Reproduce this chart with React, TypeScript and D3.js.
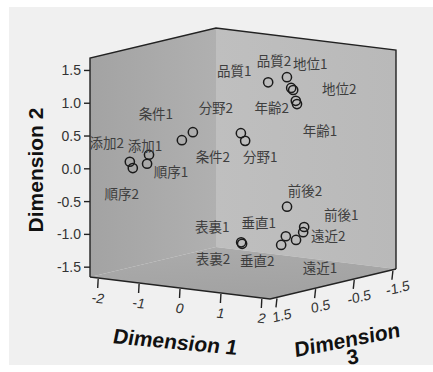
import React, { useEffect, useRef } from "react";
import * as d3 from "d3";

// point labels and their three dimension scores
const labels = [
  "品質1", "品質2", "地位1", "地位2", "年齢1", "年齢2",
  "分野1", "分野2", "条件1", "条件2", "添加1", "添加2",
  "順序1", "順序2", "前後1", "前後2", "表裏1", "表裏2",
  "垂直1", "垂直2", "遠近1", "遠近2",
];
const dim1 = [
  0.19, 0.46, 0.28, 0.14, 0.8, 0.96,
  0.1, -0.8, -0.88, 0.09, -1.4, -1.68,
  -1.4, -1.56, 1.07, 0.84, 0.38, 0.45,
  1.0, 0.98, 1.06, 1.14,
];
const dim2 = [
  1.21, 1.28, 1.06, 0.99, 0.91, 1.0,
  0.38, 0.5, 0.4, 0.51, 0.18, 0.08,
  0.05, 0.0, -0.93, -0.61, -1.09, -1.1,
  -1.02, -1.14, -1.1, -0.99,
];
const dim3 = [
  -0.4, -0.6, -0.9, -1.1, -0.5, -0.3,
  0.1, 0.5, 0.7, 0.2, 1.0, 1.2,
  1.05, 1.25, -0.4, -0.2, 0.5, 0.55,
  0.0, 0.1, -0.2, -0.3,
];
const ticks1 = [-2, -1, 0, 1, 2];
const ticks2 = [1.5, 1.0, 0.5, 0.0, -0.5, -1.0, -1.5];
const ticks3 = [1.5, 0.5, -0.5, -1.5];

// where each label sits relative to its marker (px), set by hand to avoid overlaps
const labelNudge: [number, number][] = [
  [-34, -12], [-13, -17], [19, -25], [46, -2], [23, 26], [-24, 6],
  [15, 15], [23, -25], [-26, -27], [-28, 23], [-4, -10], [-23, -20],
  [24, 7], [-11, 25], [37, -13], [18, -17], [-29, -16], [-29, 14],
  [-27, -14], [-24, 15], [24, 27], [25, 3],
];

const fmt = (f: string) => (v: number) => d3.format(f)(v).replace("−", "-");

export default function App() {
  const ref = useRef<SVGSVGElement>(null);
  useEffect(() => {
    const W = 433, H = 372;
    const svg = d3.select(ref.current).attr("width", W).attr("height", H);
    svg.selectAll("*").remove();

    // floor corners: A front-left, B front-right, D back-left; wall height
    const A = [90, 277], B = [270, 299], D = [216, 247], hgt = 219;
    const s1 = d3.scaleLinear().domain([-2.2, 2.2]).range([0, 1]);
    const s2 = d3.scaleLinear().domain([-1.65, 1.69]).range([0, 1]);
    const s3 = d3.scaleLinear().domain([1.68, -1.58]).range([0, 1]);
    const proj = (a: number, b: number, c: number): [number, number] => {
      const f1 = s1(a), f2 = s2(b), f3 = s3(c);
      return [
        A[0] + f1 * (B[0] - A[0]) + f3 * (D[0] - A[0]),
        A[1] + f1 * (B[1] - A[1]) + f3 * (D[1] - A[1]) - f2 * hgt,
      ];
    };
    const [x1a, x1b] = s1.domain();
    const [y2a, y2b] = s2.domain();
    const [z3a, z3b] = s3.domain(); // front, back

    svg.append("rect").attr("width", W).attr("height", H).attr("fill", "#fff");
    svg.append("rect").attr("x", 9).attr("y", 7).attr("width", W - 9).attr("height", 358).attr("fill", "#f0f0f0");

    const defs = svg.append("defs");
    const grad = (id: string, c0: string, c1: string, x2 = "100%", y2 = "0%") => {
      const g = defs.append("linearGradient").attr("id", id).attr("x1", "0%").attr("y1", "0%").attr("x2", x2).attr("y2", y2);
      g.append("stop").attr("offset", "0%").attr("stop-color", c0);
      g.append("stop").attr("offset", "100%").attr("stop-color", c1);
    };
    grad("lw", "#a3a3a3", "#b0b0b0");
    grad("bw", "#bfbfbf", "#b9b9b9");
    grad("fl", "#acacac", "#a2a2a2", "30%", "100%");

    const poly = (pts: [number, number][]) => "M" + pts.map((p) => p.join(",")).join("L") + "Z";
    const pFL = proj(x1a, y2a, z3a), pFR = proj(x1b, y2a, z3a), pBR = proj(x1b, y2a, z3b), pBL = proj(x1a, y2a, z3b);
    const tFL = proj(x1a, y2b, z3a), tBR = proj(x1b, y2b, z3b), tBL = proj(x1a, y2b, z3b);

    svg.append("path").attr("d", poly([tFL, tBL, pBL, pFL])).attr("fill", "url(#lw)");
    svg.append("path").attr("d", poly([tBL, tBR, pBR, pBL])).attr("fill", "url(#bw)");
    svg.append("path").attr("d", poly([pFL, pBL, pBR, pFR])).attr("fill", "url(#fl)");

    const edge = (pts: [number, number][]) =>
      svg.append("path").attr("d", "M" + pts.map((p) => p.join(",")).join("L"))
        .attr("fill", "none").attr("stroke", "#222").attr("stroke-width", 1.4);
    edge([pFL, tFL, tBL, tBR, pBR]);
    edge([pFL, pFR, pBR]);

    const tickFont = "'Liberation Sans', Arial, sans-serif";

    // dimension 2 ticks (vertical, left edge)
    ticks2.forEach((t) => {
      const [x, y] = proj(x1a, t, z3a);
      svg.append("line").attr("x1", x - 6).attr("x2", x).attr("y1", y).attr("y2", y).attr("stroke", "#222").attr("stroke-width", 1.4);
      svg.append("text").attr("x", x - 9).attr("y", y).attr("text-anchor", "end").attr("dominant-baseline", "central")
        .attr("font-family", tickFont).attr("font-size", 14).attr("fill", "#333").text(fmt(".1f")(t));
    });
    // dimension 1 ticks (front edge)
    ticks1.forEach((t) => {
      const [x, y] = proj(t, y2a, z3a);
      svg.append("line").attr("x1", x).attr("x2", x - 0.5).attr("y1", y + 1).attr("y2", y + 10).attr("stroke", "#222").attr("stroke-width", 1.4);
      svg.append("text").attr("transform", `translate(${x},${y + 20}) rotate(7) skewX(-8)`)
        .attr("text-anchor", "middle").attr("dominant-baseline", "central")
        .attr("font-family", tickFont).attr("font-size", 14).attr("fill", "#333").text(fmt("d")(t));
    });
    // dimension 3 ticks (right front edge)
    ticks3.forEach((t) => {
      const [x, y] = proj(x1b, y2a, t);
      svg.append("line").attr("x1", x).attr("x2", x - 1).attr("y1", y + 1).attr("y2", y + 10).attr("stroke", "#222").attr("stroke-width", 1.4);
      svg.append("text").attr("transform", `translate(${x + 5},${y + 18}) rotate(-13) skewX(-8)`)
        .attr("text-anchor", "middle").attr("dominant-baseline", "central")
        .attr("font-family", tickFont).attr("font-size", 14).attr("fill", "#333").text(fmt(".1f")(t));
    });

    // axis titles
    const title = (tr: string, s: string) =>
      svg.append("text").attr("transform", tr).attr("text-anchor", "middle")
        .attr("font-family", tickFont).attr("font-weight", "bold").attr("font-size", 21).attr("fill", "#111").text(s);
    title("translate(43,170) rotate(-90)", "Dimension 2");
    title("translate(174,349) rotate(5.5) skewX(-6)", "Dimension 1");
    title("translate(348,347) rotate(-11) skewX(-6)", "Dimension");
    title("translate(354,364) rotate(-11)", "3");

    // points
    const pts = labels.map((l, i) => ({ l, p: proj(dim1[i], dim2[i], dim3[i]), n: labelNudge[i] }));
    svg.append("g").selectAll("circle").data(pts).enter().append("circle")
      .attr("cx", (d) => d.p[0]).attr("cy", (d) => d.p[1]).attr("r", 4.6)
      .attr("fill", "none").attr("stroke", "#1a1a1a").attr("stroke-width", 1.5);
    svg.append("g").selectAll("text").data(pts).enter().append("text")
      .attr("x", (d) => d.p[0] + d.n[0]).attr("y", (d) => d.p[1] + d.n[1])
      .attr("text-anchor", "middle").attr("dominant-baseline", "central")
      .attr("font-family", "'Noto Sans CJK JP', sans-serif").attr("font-size", 13.5).attr("fill", "#3e3e3e")
      .text((d) => d.l);
  }, []);

  return (
    <div style={{ position: "absolute", left: 0, top: 0 }}>
      <svg ref={ref}></svg>
    </div>
  );
}
